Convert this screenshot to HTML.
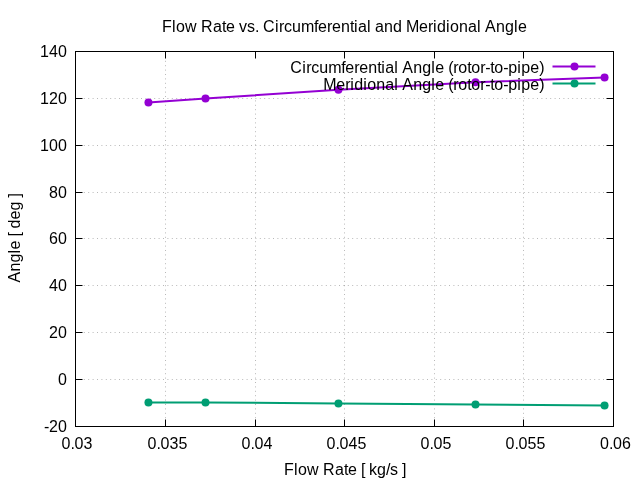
<!DOCTYPE html>
<html><head><meta charset="utf-8"><title>Flow Rate vs. Circumferential and Meridional Angle</title>
<style>
html,body{margin:0;padding:0;background:#fff;}
body{width:640px;height:480px;overflow:hidden;}
svg{display:block;will-change:transform;}
text{font-family:"Liberation Sans",sans-serif;font-size:16px;fill:#000;white-space:pre;}
</style></head><body>
<svg width="640" height="480" viewBox="0 0 640 480">
<rect x="0" y="0" width="640" height="480" fill="#ffffff"/>

<g stroke="#000" stroke-width="0.5" stroke-opacity="0.56" stroke-dasharray="1,3.4" fill="none">
<path d="M75.0,98.5H613.5"/>
<path d="M75.0,145.5H613.5"/>
<path d="M75.0,192.5H613.5"/>
<path d="M75.0,238.5H613.5"/>
<path d="M75.0,285.5H613.5"/>
<path d="M75.0,332.5H613.5"/>
<path d="M75.0,379.5H613.5"/>
<path d="M165.5,427.0V51.5"/>
<path d="M255.5,427.0V94"/>
<path d="M344.5,427.0V94"/>
<path d="M434.5,427.0V94"/>
<path d="M523.5,427.0V94"/>
</g>
<g stroke="#000" stroke-width="1" fill="none">
<path d="M75.5,51.5h7M613.5,51.5h-7"/>
<path d="M75.5,98.5h7M613.5,98.5h-7"/>
<path d="M75.5,145.5h7M613.5,145.5h-7"/>
<path d="M75.5,192.5h7M613.5,192.5h-7"/>
<path d="M75.5,238.5h7M613.5,238.5h-7"/>
<path d="M75.5,285.5h7M613.5,285.5h-7"/>
<path d="M75.5,332.5h7M613.5,332.5h-7"/>
<path d="M75.5,379.5h7M613.5,379.5h-7"/>
<path d="M75.5,426.5h7M613.5,426.5h-7"/>
<path d="M75.5,426.5v-7M75.5,51.5v7"/>
<path d="M165.5,426.5v-7M165.5,51.5v7"/>
<path d="M255.5,426.5v-7M255.5,51.5v7"/>
<path d="M344.5,426.5v-7M344.5,51.5v7"/>
<path d="M434.5,426.5v-7M434.5,51.5v7"/>
<path d="M523.5,426.5v-7M523.5,51.5v7"/>
<path d="M613.5,426.5v-7M613.5,51.5v7"/>
</g>
<text x="40 49 58" y="56.7">140</text>
<text x="40 49 58" y="103.7">120</text>
<text x="40 49 58" y="150.7">100</text>
<text x="49 58" y="197.7">80</text>
<text x="49 58" y="243.7">60</text>
<text x="49 58" y="290.7">40</text>
<text x="49 58" y="337.7">20</text>
<text x="58" y="384.7">0</text>
<text x="44 49 58" y="431.7">-20</text>
<text x="61.5 70.5 74.5 83.5" y="448.7">0.03</text>
<text x="147.5 156.5 160.5 169.5 178.5" y="448.7">0.035</text>
<text x="241.5 250.5 254.5 263.5" y="448.7">0.04</text>
<text x="326.5 335.5 339.5 348.5 357.5" y="448.7">0.045</text>
<text x="420.5 429.5 433.5 442.5" y="448.7">0.05</text>
<text x="505.5 514.5 518.5 527.5 536.5" y="448.7">0.055</text>
<text x="600 609 613 622" y="448.7">0.06</text>
<text x="162 172 176 185 197 201 213 222 226 235 239 247 255 259 263 275 279 284 292 301 314 318 327 332 341 350 354 358 367 371 375 384 393 402 406 419 428 433 437 446 450 459 468 477 481 485 496 505 514 518" y="31.8">Flow Rate vs. Circumferential and Meridional Angle</text>
<text x="284 294 298 307 319 323 335 344 348 357 361 365 369 377 386 390 398 402" y="474.5">Flow Rate [ kg/s ]</text>
<text x="0 11 20 29 33 42 46 50 54 63 72 81 85" y="0" transform="translate(19.8,282.6) rotate(-90)">Angle [ deg ]</text>
<text x="290.2 302.2 306.2 311.2 319.2 328.2 341.2 345.2 354.2 359.2 368.2 377.2 381.2 385.2 394.2 398.2 402.2 413.2 422.2 431.2 435.2 444.2 448.2 453.2 458.2 467.2 471.2 480.2 485.2 490.2 494.2 503.2 508.2 517.2 521.2 530.2 539.2" y="72.5">Circumferential Angle (rotor-to-pipe)</text>
<path d="M148.45,102.5L205.5,98.5L338.45,89.7L475.5,82.35L604.55,77.45" stroke="#9400d3" stroke-width="2" fill="none" stroke-linejoin="round"/>
<path d="M552.5,66.5H595.5" stroke="#9400d3" stroke-width="2" fill="none"/>
<circle cx="148.45" cy="102.5" r="4" fill="#9400d3"/>
<circle cx="205.5" cy="98.5" r="4" fill="#9400d3"/>
<circle cx="338.45" cy="89.7" r="4" fill="#9400d3"/>
<circle cx="475.5" cy="82.35" r="4" fill="#9400d3"/>
<circle cx="604.55" cy="77.45" r="4" fill="#9400d3"/>
<circle cx="574.5" cy="66.5" r="4" fill="#9400d3"/>
<text x="323.2 336.2 345.2 350.2 354.2 363.2 367.2 376.2 385.2 394.2 398.2 402.2 413.2 422.2 431.2 435.2 444.2 448.2 453.2 458.2 467.2 471.2 480.2 485.2 490.2 494.2 503.2 508.2 517.2 521.2 530.2 539.2" y="89.7">Meridional Angle (rotor-to-pipe)</text>
<path d="M148.45,402.45L205.5,402.45L338.45,403.45L475.5,404.45L604.55,405.45" stroke="#009e73" stroke-width="2" fill="none" stroke-linejoin="round"/>
<path d="M552.5,83.5H595.5" stroke="#009e73" stroke-width="2" fill="none"/>
<circle cx="148.45" cy="402.45" r="4" fill="#009e73"/>
<circle cx="205.5" cy="402.45" r="4" fill="#009e73"/>
<circle cx="338.45" cy="403.45" r="4" fill="#009e73"/>
<circle cx="475.5" cy="404.45" r="4" fill="#009e73"/>
<circle cx="604.55" cy="405.45" r="4" fill="#009e73"/>
<circle cx="574.5" cy="83.5" r="4" fill="#009e73"/>
<rect x="75.5" y="51.5" width="538.0" height="375.0" fill="none" stroke="#000" stroke-width="1"/>
</svg></body></html>
